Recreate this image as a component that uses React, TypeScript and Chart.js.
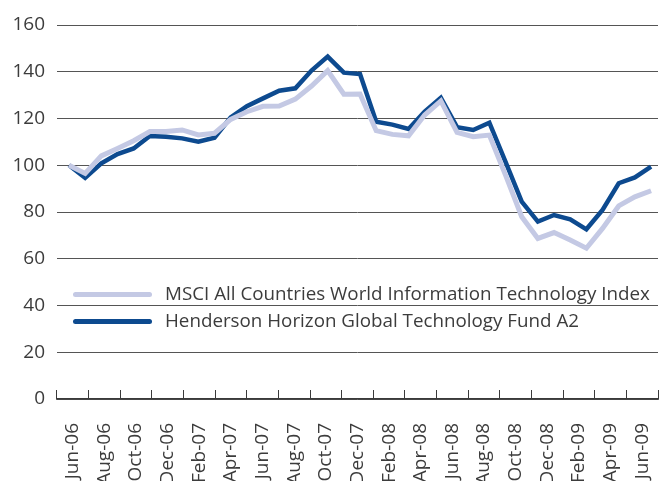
import React, { useEffect, useRef } from "react";
import { Chart, registerables } from "chart.js";

Chart.register(...registerables);

const months = [
  "Jun-06", "Jul-06", "Aug-06", "Sep-06", "Oct-06", "Nov-06", "Dec-06",
  "Jan-07", "Feb-07", "Mar-07", "Apr-07", "May-07", "Jun-07", "Jul-07",
  "Aug-07", "Sep-07", "Oct-07", "Nov-07", "Dec-07", "Jan-08", "Feb-08",
  "Mar-08", "Apr-08", "May-08", "Jun-08", "Jul-08", "Aug-08", "Sep-08",
  "Oct-08", "Nov-08", "Dec-08", "Jan-09", "Feb-09", "Mar-09", "Apr-09",
  "May-09", "Jun-09",
];

const tickLabels = [
  "Jun-06", "Aug-06", "Oct-06", "Dec-06", "Feb-07", "Apr-07", "Jun-07",
  "Aug-07", "Oct-07", "Dec-07", "Feb-08", "Apr-08", "Jun-08", "Aug-08",
  "Oct-08", "Dec-08", "Feb-09", "Apr-09", "Jun-09",
];

const msciValues = [
  100, 96.5, 104, 107.2, 110.5, 114.4, 114.4, 115.1, 113, 113.7, 119.6, 122.9,
  125.2, 125.3, 128.3, 133.9, 140.5, 130.4, 130.5, 114.8, 113.2, 112.6, 121.5,
  127.5, 114.1, 112.2, 112.9, 95.8, 78, 68.7, 71.2, 68, 64.5, 73, 82.6, 86.5,
  89.1,
];

const hendersonValues = [
  100, 94.6, 100.8, 104.8, 107.2, 112.5, 112.2, 111.5, 110.1, 111.8, 120.5,
  125.3, 128.6, 131.9, 132.9, 140.5, 146.5, 139.6, 139, 118.6, 117.4, 115.5,
  122.9, 128.9, 116.3, 115.1, 118.2, 101.4, 84.4, 75.9, 78.7, 76.9, 72.6, 80.9,
  92.3, 94.8, 99.4,
];

const seriesNames = [
  "MSCI All Countries World Information Technology Index",
  "Henderson Horizon Global Technology Fund A2",
];
const seriesColors = ["#c4c9e4", "#0d4a8f"];

const FONT = "'Open Sans', 'Noto Sans', sans-serif";

export default function App() {
  const canvasRef = useRef<HTMLCanvasElement | null>(null);

  useEffect(() => {
    document.body.style.margin = "0";
    const canvas = canvasRef.current;
    if (!canvas) return;
    const chart = new Chart(canvas, {
      type: "line",
      data: {
        labels: months,
        datasets: [
          {
            label: seriesNames[0],
            data: msciValues.map((v, i) => ({ x: i, y: v })),
            borderColor: seriesColors[0],
            backgroundColor: seriesColors[0],
            borderWidth: 5,
            pointRadius: 0,
            tension: 0,
            borderJoinStyle: "miter",
            borderCapStyle: "butt",
            xAxisID: "xd",
            yAxisID: "y",
          },
          {
            label: seriesNames[1],
            data: hendersonValues.map((v, i) => ({ x: i, y: v })),
            borderColor: seriesColors[1],
            backgroundColor: seriesColors[1],
            borderWidth: 4.5,
            pointRadius: 0,
            tension: 0,
            borderJoinStyle: "miter",
            borderCapStyle: "butt",
            xAxisID: "xd",
            yAxisID: "y",
          },
        ],
      },
      options: {
        animation: false,
        responsive: true,
        maintainAspectRatio: false,
        layout: { padding: { top: 25, right: 1, left: 0, bottom: 0 } },
        plugins: {
          legend: { display: false },
          tooltip: { enabled: false },
        },
        scales: {
          x: {
            type: "category",
            labels: tickLabels,
            position: "bottom",
            offset: true,
            grid: {
              offset: true,
              drawOnChartArea: false,
              drawTicks: true,
              tickLength: -9,
              color: "#3a3a3a",
              lineWidth: 1,
            },
            border: { display: true, color: "#3a3a3a", width: 1.5 },
            ticks: {
              autoSkip: false,
              maxRotation: 90,
              minRotation: 90,
              padding: 33,
              color: "#3c3c3c",
              font: { family: FONT, size: 19 },
            },
            afterFit: (scale: any) => {
              scale.height = 82;
              scale.paddingLeft = 0;
              scale.paddingRight = 0;
            },
          },
          xd: {
            type: "linear",
            display: true,
            position: "bottom",
            min: -0.742,
            max: 36.43,
            grid: { display: false, drawTicks: false },
            border: { display: false },
            ticks: { display: false },
            afterFit: (scale: any) => {
              scale.height = 0;
              scale.paddingLeft = 0;
              scale.paddingRight = 0;
            },
          },
          y: {
            type: "linear",
            min: 0,
            max: 160,
            ticks: {
              stepSize: 20,
              padding: 12,
              color: "#3c3c3c",
              font: { family: FONT, size: 19 },
            },
            grid: {
              color: "#555555",
              lineWidth: 1,
              drawTicks: false,
            },
            border: { display: false },
            afterFit: (scale: any) => {
              scale.width = 57;
            },
          },
        },
      },
    });
    return () => chart.destroy();
  }, []);

  return (
    <div
      style={{
        position: "absolute",
        left: 0,
        top: 0,
        width: 659,
        height: 481,
      }}
    >
      <canvas ref={canvasRef} />
      <div
        style={{
          position: "absolute",
          left: 0,
          top: 0,
          width: 659,
          height: 481,
          pointerEvents: "none",
        }}
      >
        {seriesNames.map((name, i) => (
          <div key={name}>
            <div
              style={{
                position: "absolute",
                left: 73,
                top: 291.5 + i * 27,
                width: 79,
                height: 5,
                borderRadius: 2.5,
                background: seriesColors[i],
              }}
            />
            <div
              style={{
                position: "absolute",
                left: 165,
                top: 282.5 + i * 27,
                fontFamily: FONT,
                fontSize: 18.8,
                lineHeight: "20px",
                color: "#3c3c3c",
                whiteSpace: "nowrap",
              }}
            >
              {name}
            </div>
          </div>
        ))}
      </div>
    </div>
  );
}
